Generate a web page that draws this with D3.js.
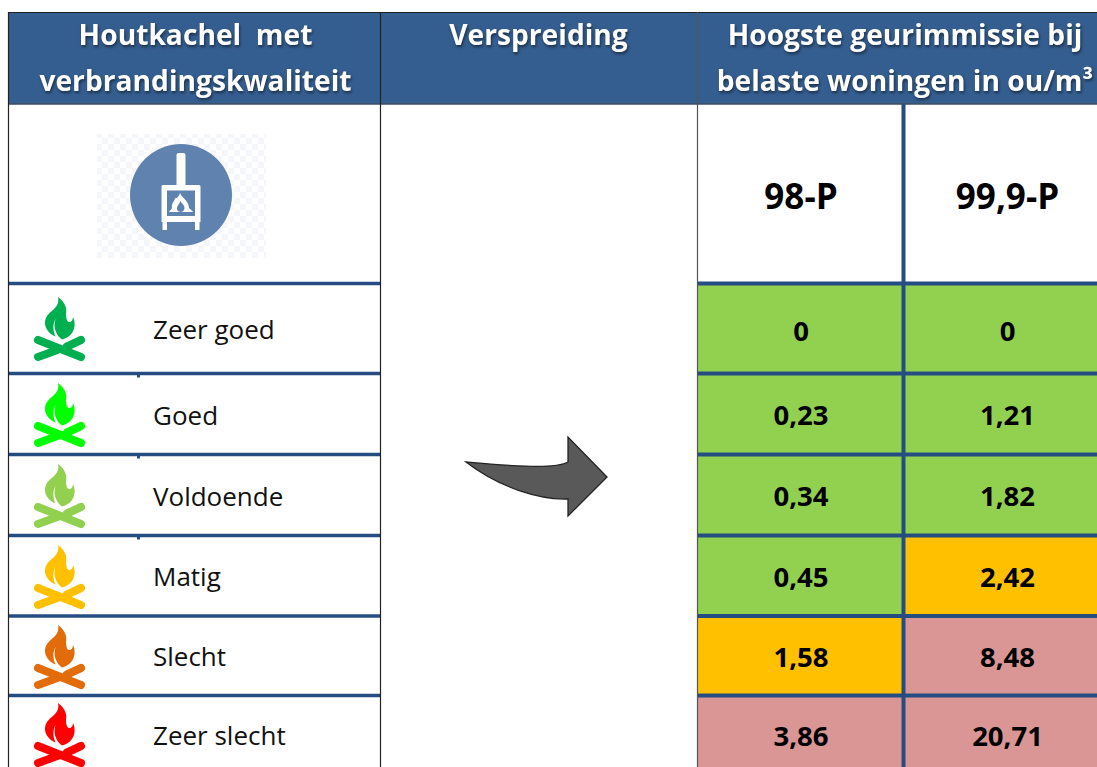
<!DOCTYPE html>
<html><head><meta charset="utf-8">
<script src="https://cdn.jsdelivr.net/npm/d3@7"></script>
<style>
html,body{margin:0;padding:0;background:#fff;overflow:hidden}
svg{display:block}
text{font-family:"Open Sans",sans-serif}
.hd{font-weight:700;font-size:28.2px;fill:#fff;text-anchor:middle;white-space:pre;filter:drop-shadow(1px 2px 1.5px rgba(0,0,0,.5))}
</style></head><body>
<svg id="c" width="1097" height="767"></svg>
<script>
const qualities = ["Zeer goed","Goed","Voldoende","Matig","Slecht","Zeer slecht"];
const flameColors = ["#00B050","#00FF00","#92D050","#FFC000","#E36C0A","#FF0000"];
const columns = ["98-P","99,9-P"];
const p98 = ["0","0,23","0,34","0,45","1,58","3,86"];
const p999 = ["0","1,21","1,82","2,42","8,48","20,71"];
const class98 = ["ok","ok","ok","ok","mid","high"];
const class999 = ["ok","ok","ok","mid","high","high"];
const headerLines = [["Houtkachel  met","verbrandingskwaliteit"],["Verspreiding"],["Hoogste geurimmissie bij","belaste woningen in ou/m³"]];

const fill = d3.scaleOrdinal(["ok","mid","high"],["#92D050","#FFC000","#D99694"]);
const GRID = "#264D82";
const svg = d3.select("#c");
const y = d3.scaleLinear().domain([0,1,2,3,4,5,6]).range([283.5,373.5,454.5,535.5,616,695.5,776]);
const x = d3.scaleOrdinal([0,1,2],[697.5,903.5,1110]);
const colMid = d3.scaleOrdinal([0,1],[801,1007.5]);
const headX = d3.scaleOrdinal([0,1,2],[195.5,538.5,905]);
const rowMid = i => i==5 ? 736 : (y(i)+y(i+1))/2;

// pattern behind the stove icon
const defs = svg.append("defs");
const pat = defs.append("pattern").attr("id","chk").attr("width",12).attr("height",12).attr("patternUnits","userSpaceOnUse");
pat.append("rect").attr("width",6).attr("height",6).attr("fill","#F4F6FA");
pat.append("rect").attr("x",6).attr("y",6).attr("width",6).attr("height",6).attr("fill","#F4F6FA");

// value cells
const rows = d3.range(qualities.length);
[[p98,class98],[p999,class999]].forEach(([vals,cls],c)=>{
  svg.append("g").selectAll("rect").data(rows).join("rect")
    .attr("x",x(c)).attr("y",i=>y(i)).attr("width",x(c+1)-x(c)).attr("height",i=>y(i+1)-y(i))
    .attr("fill",i=>fill(cls[i]));
  svg.append("g").selectAll("text").data(rows).join("text")
    .attr("x",colMid(c)).attr("y",i=>rowMid(i)+(i==0?2.5:i==5?0:1.5))
    .attr("dy","0.35em").attr("text-anchor","middle").attr("font-weight",700).attr("font-size",27.5).attr("fill","#000")
    .text(i=>vals[i]);
});

// header band
svg.append("rect").attr("x",8).attr("y",12.5).attr("width",1100).attr("height",92).attr("fill","#355E90");
svg.append("line").attr("x1",8).attr("x2",1097).attr("y1",12.5).attr("y2",12.5).attr("stroke","#222").attr("stroke-width",1);
svg.append("line").attr("x1",8).attr("x2",1097).attr("y1",104).attr("y2",104).attr("stroke","#444").attr("stroke-width",1);
headerLines.forEach((ls,c)=>{
  ls.forEach((t,k)=>{
    svg.append("text").attr("class","hd").attr("x",headX(c)).attr("y",45+k*46).text(t);
  });
});

// column heads
columns.forEach((t,c)=>{
  svg.append("text").attr("x",colMid(c)).attr("y",196.5).attr("dy","0.35em").attr("text-anchor","middle")
    .attr("font-weight",700).attr("font-size",35).attr("fill","#000").text(t);
});

// horizontal rules
rows.forEach(i=>{
  svg.append("line").attr("x1",8).attr("x2",380).attr("y1",y(i)).attr("y2",y(i)).attr("stroke",GRID).attr("stroke-width",3.5);
  svg.append("line").attr("x1",697).attr("x2",1097).attr("y1",y(i)).attr("y2",y(i)).attr("stroke",GRID).attr("stroke-width",3.8);
  if(i>=1&&i<=3) svg.append("rect").attr("x",137).attr("y",y(i)).attr("width",3).attr("height",4).attr("fill",GRID);
});
// vertical rules
svg.append("line").attr("x1",903.5).attr("x2",903.5).attr("y1",104).attr("y2",767).attr("stroke",GRID).attr("stroke-width",4);
[[8.5,"#222"],[380.5,"#222"],[697.5,"#555"]].forEach(([px,col])=>{
  svg.append("line").attr("x1",px).attr("x2",px).attr("y1",12).attr("y2",767).attr("stroke",col).attr("stroke-width",1.2);
});

// quality labels
svg.append("g").selectAll("text").data(rows).join("text")
  .attr("x",153).attr("y",i=>rowMid(i)+(i==5?0:1.5)).attr("dy","0.35em")
  .attr("font-size",26).attr("fill","#111").text(i=>qualities[i]);

// flame icons
const flameD = "M24,0C32,6 33,12 32,17C32,21 33,25 35,25C37.500,25 39,23 39,20C41.500,25 41,32 38,36C35,40 31,42 28,42.500C23,39 20.500,33 20.500,28C20.500,26 21,24 21.500,22C19,26 18.500,33 21.500,39.500C14,36.500 10.500,30 11,25C11.500,18 17,15 21,11C24,8 25,4 24,0Z";
const iconTop = [297,383,464,545,625,703];
const icons = svg.append("g").selectAll("g").data(rows).join("g")
  .attr("transform",i=>`translate(34,${iconTop[i]})`);
icons.append("path").attr("d",flameD).attr("fill",i=>flameColors[i]);
const logs = [[4,43,47,60],[4,60,26,52],[33,49.5,47,43]];
logs.forEach(l=>{
  icons.append("line").attr("x1",l[0]).attr("y1",l[1]).attr("x2",l[2]).attr("y2",l[3])
    .attr("stroke",i=>flameColors[i]).attr("stroke-width",8).attr("stroke-linecap","round");
});

// stove icon
svg.append("rect").attr("x",97).attr("y",134).attr("width",169).attr("height",124).attr("fill","url(#chk)");
const st = svg.append("g");
st.append("circle").attr("cx",181).attr("cy",195).attr("r",51).attr("fill","#6082AE");
st.append("path").attr("fill","#fff").attr("fill-rule","evenodd")
  .attr("d","M176.5,155Q176.5,153 178.5,153L183.5,153Q185.5,153 185.5,155L185.5,185L199,185Q200.5,185 200.5,186.5L200.5,222L199.5,222L199.5,230L195,230L195,222L167,222L167,230L162.5,230L162.5,222L161.5,222L161.5,186.5Q161.5,185 163,185L176.5,185ZM167,190.5L167,216L195,216L195,190.5Z");
st.append("path").attr("fill","#fff").attr("fill-rule","evenodd")
  .attr("d","M180,193C182,198 189,201 189,208C190,209 192,210 193,212L169,212C170,210 172,209 172,208C171,203 175,201 175,198C177,199 179,196 180,193ZM180.5,201C179,205 176.5,206 177,209.500C177.500,211 179,212 180.5,212C183,212 184.500,210 184.500,208C184.500,205 182,204 180.5,201Z");

// arrow
svg.append("path").attr("fill","#595959").attr("stroke","#222").attr("stroke-width",1.3).attr("stroke-linejoin","miter")
  .attr("d","M466,462C500,465 555,470 568,462L568,437L607,477L568,516L568,499C540,500 500,488 466,462Z");
</script></body></html>
